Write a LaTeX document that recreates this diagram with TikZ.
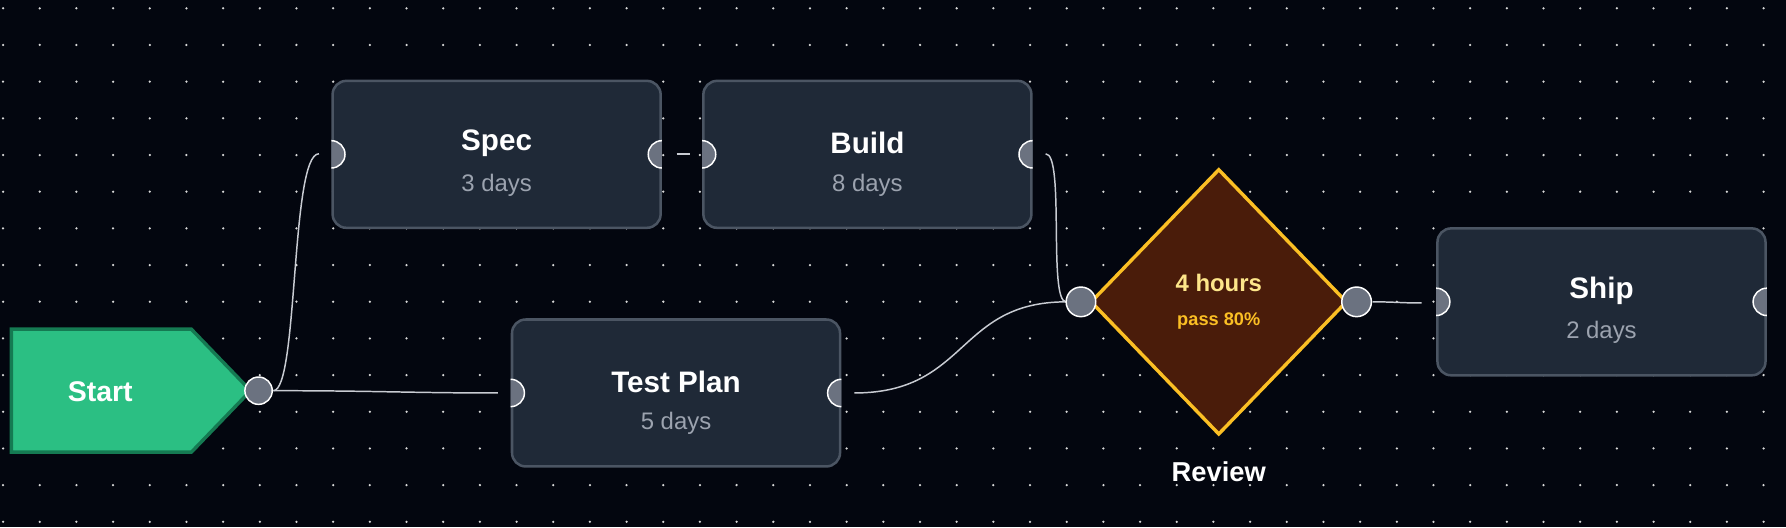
\documentclass[tikz,border=0pt]{standalone}
\usepackage{fontspec}
\setmainfont{Liberation Sans}
\usetikzlibrary{shapes.geometric}
\definecolor{bg}{HTML}{03060F}
\definecolor{boxf}{HTML}{1F2937}
\definecolor{boxd}{HTML}{4B5563}
\definecolor{sub}{HTML}{9CA3AF}
\definecolor{hand}{HTML}{6B7280}
\definecolor{edge}{HTML}{C8CBD2}
\definecolor{grn}{HTML}{2BBF83}
\definecolor{grnd}{HTML}{157A52}
\definecolor{dia}{HTML}{4A1C0A}
\definecolor{diad}{HTML}{FBBF24}
\definecolor{diat}{HTML}{FDE68A}
\begin{document}
\begin{tikzpicture}[x=1pt,y=-1pt,
  task/.style={draw=boxd,line width=2.2pt,fill=boxf,rounded corners=12pt,minimum width=288pt,minimum height=129pt,inner sep=0pt},
  ttl/.style={text=white,font=\fontsize{26}{28}\selectfont\bfseries},
  dur/.style={text=sub,font=\fontsize{21}{24}\selectfont},
  hc/.style={fill=hand,draw=white,line width=1.3pt},
  ed/.style={draw=edge,line width=1.3pt}]
\fill[bg] (0,0) rectangle (1568,463);
\useasboundingbox (0,0) rectangle (1568,463);
\foreach \i in {0,...,48}{\foreach \j in {0,...,14}{
  \fill[white!85!black] (2.7+32.2*\i,7.3+32.2*\j) circle (1.1pt);}}
% edges
\coordinate (s0) at (240,343);
\draw[ed] (s0) .. controls (262,343) and (255,135) .. (280,135);
\draw[ed] (s0) .. controls (330,343) and (360,345) .. (437,345);
\draw[ed] (594,135) -- (606,135);
\draw[ed] (918,135) .. controls (935,135) and (920,265) .. (936,265);
\draw[ed] (750,345) .. controls (850,345) and (840,265) .. (936,265);
\draw[ed] (1205,265) .. controls (1225,265) and (1230,266) .. (1248,266);
% start
\draw[fill=grn,draw=grnd,line width=3pt] (10,289) -- (168,289) -- (220,343) -- (168,397) -- (10,397) -- cycle;
\node[text=white,font=\fontsize{25}{28}\selectfont\bfseries] (start) at (88,344) {Start};
\draw[hc] (227,343) circle (12);
% tasks
\node[task] (spec) at (436,135.5) {};
\node[task] (build) at (761.5,135.5) {};
\node[task] (tp) at (593.5,345) {};
\node[task] (ship) at (1406,265) {};
\foreach \n/\t/\d in {spec/Spec/3 days,build/Build/8 days,tp/Test Plan/5 days,ship/Ship/2 days}{
  \node[ttl] at ([yshift=10pt]\n.center) {\t};
  \node[dur] at ([yshift=-27pt]\n.center) {\d};
  \begin{scope}
    \clip (\n.south west) rectangle (\n.north east);
    \draw[hc] (\n.west) circle (12);
    \draw[hc] (\n.east) circle (12);
  \end{scope}
}
% diamond
\draw[fill=dia,draw=diad,line width=3pt] (1070,149) -- (1182,265) -- (1070,381) -- (958,265) -- cycle;
\node (rev) at (1070,265) {};
\node[text=diat,font=\fontsize{21}{24}\selectfont\bfseries] at (1070,248) {4 hours};
\node[text=diad,font=\fontsize{16}{19}\selectfont\bfseries] at (1070,282) {pass 80\%};
\draw[hc] (949,265) circle (13);
\draw[hc] (1191,265) circle (13);
\node[text=white,font=\fontsize{24}{27}\selectfont\bfseries] at (1070,414) {Review};
\end{tikzpicture}
\end{document}
